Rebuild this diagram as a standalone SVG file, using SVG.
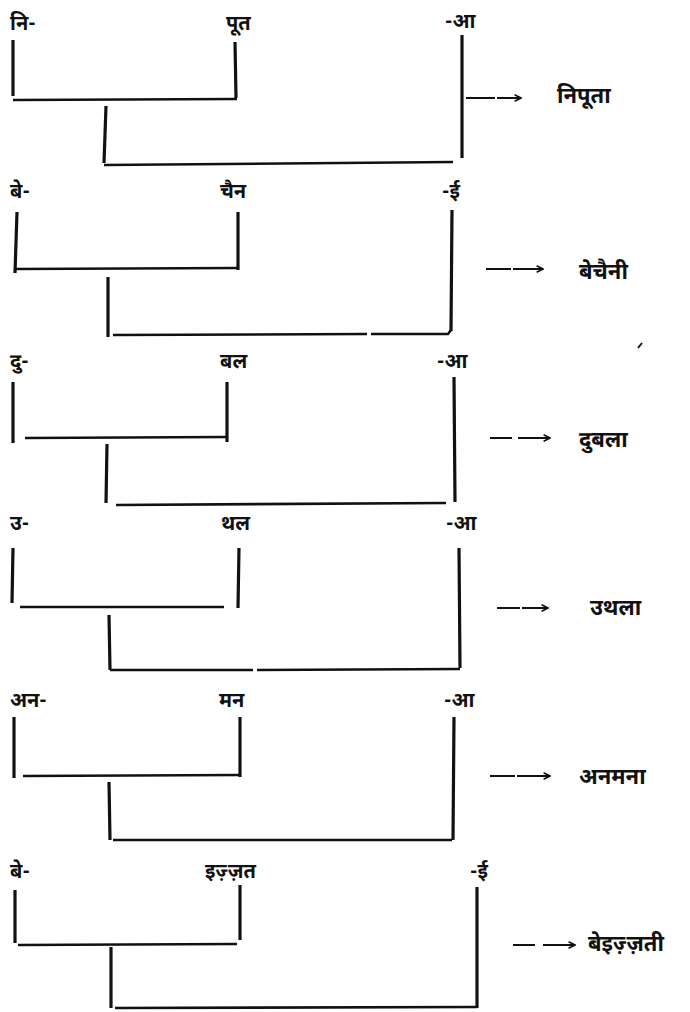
<svg xmlns="http://www.w3.org/2000/svg" width="690" height="1012" viewBox="0 0 690 1012">
<defs>
<style>
.ln{fill:none;stroke:#111;stroke-width:3.2;stroke-linecap:butt}
.hl{fill:none;stroke:#111;stroke-width:2.6}
.ar{fill:none;stroke:#111;stroke-width:2}
.t{font-family:"Noto Sans Devanagari","Noto Sans","Lohit Devanagari","Noto Sans CJK SC",sans-serif;font-size:20px;font-weight:bold;fill:#111}
.r{font-size:22px}
</style>
<marker id="ah" viewBox="0 0 10 10" refX="9" refY="5" markerWidth="8" markerHeight="8" markerUnits="userSpaceOnUse" orient="auto">
<path d="M1,1 L9,5 L1,9" fill="none" stroke="#111" stroke-width="2"/>
</marker>
</defs>
<rect width="690" height="1012" fill="#fff"/>

<g id="connectors">
<!-- block 1 -->
<path class="ln" d="M13,40 L13,96"/>
<path class="hl" d="M13,100 L237,99"/>
<path class="ln" d="M235,42 L236,98"/>
<path class="ln" d="M106,106 L104,163"/>
<path class="hl" d="M104,165 L453,162"/>
<path class="ln" d="M462,35 L462,158"/>
<path class="ar" d="M466,98 L495,98"/>
<path class="ar" d="M497,98 L521,98" marker-end="url(#ah)"/>
<!-- block 2 -->
<path class="ln" d="M17,212 L15,273"/>
<path class="hl" d="M15,269 L239,268"/>
<path class="ln" d="M238,212 L238,270"/>
<path class="ln" d="M108,277 L108,337"/>
<path class="hl" d="M113,335 L367,334"/>
<path class="hl" d="M371,334 L448,334 L451,330"/>
<path class="ln" d="M452,210 L451,331"/>
<path class="ar" d="M486,269 L511,269"/>
<path class="ar" d="M513,269 L543,269" marker-end="url(#ah)"/>
<!-- block 3 -->
<path class="ln" d="M13,382 L13,443"/>
<path class="hl" d="M25,438 L226,437"/>
<path class="ln" d="M227,382 L227,442"/>
<path class="ln" d="M107,444 L106,503"/>
<path class="hl" d="M116,505 L446,503"/>
<path class="ln" d="M454,377 L455,502"/>
<path class="ar" d="M490,438 L512,438"/>
<path class="ar" d="M518,438 L550,438" marker-end="url(#ah)"/>
<!-- block 4 -->
<path class="ln" d="M13,548 L12,603"/>
<path class="hl" d="M20,607 L224,607"/>
<path class="ln" d="M239,548 L238,608"/>
<path class="ln" d="M109,615 L110,670"/>
<path class="hl" d="M110,670 L253,670"/>
<path class="hl" d="M257,670 L460,669"/>
<path class="ln" d="M459,548 L460,668"/>
<path class="ar" d="M497,608 L520,608"/>
<path class="ar" d="M522,608 L548,608" marker-end="url(#ah)"/>
<!-- block 5 -->
<path class="ln" d="M14,717 L14,778"/>
<path class="hl" d="M23,776 L239,775"/>
<path class="ln" d="M240,717 L240,777"/>
<path class="ln" d="M109,782 L110,840"/>
<path class="hl" d="M113,840 L452,840"/>
<path class="ln" d="M454,717 L453,840"/>
<path class="ar" d="M490,776 L515,776"/>
<path class="ar" d="M517,776 L550,776" marker-end="url(#ah)"/>
<!-- block 6 -->
<path class="ln" d="M15,890 L15,943"/>
<path class="hl" d="M18,945 L237,944"/>
<path class="ln" d="M240,885 L240,940"/>
<path class="ln" d="M111,947 L111,1008"/>
<path class="hl" d="M115,1008 L477,1007"/>
<path class="ln" d="M477,887 L477,1008"/>
<path class="ar" d="M513,945 L535,945"/>
<path class="ar" d="M543,945 L575,945" marker-end="url(#ah)"/>
<!-- stray mark -->
<path class="ar" d="M638,348 L642,343"/>
</g>

<g id="b1">
<g id="b1-a"><text class="t" x="10" y="30">नि-</text></g>
<g id="b1-b"><text class="t" x="226" y="30">पूत</text></g>
<g id="b1-c"><text class="t" x="445" y="28">-आ</text></g>
<g id="b1-r"><text class="t r" x="557" y="103">निपूता</text></g>
</g>
<g id="b2">
<g id="b2-a"><text class="t" x="10" y="198">बे-</text></g>
<g id="b2-b"><text class="t" x="220" y="198">चैन</text></g>
<g id="b2-c"><text class="t" x="442" y="198">-ई</text></g>
<g id="b2-r"><text class="t r" x="579" y="279">बेचैनी</text></g>
</g>
<g id="b3">
<g id="b3-a"><text class="t" x="10" y="368">दु-</text></g>
<g id="b3-b"><text class="t" x="220" y="368">बल</text></g>
<g id="b3-c"><text class="t" x="437" y="368">-आ</text></g>
<g id="b3-r"><text class="t r" x="579" y="447">दुबला</text></g>
</g>
<g id="b4">
<g id="b4-a"><text class="t" x="10" y="530">उ-</text></g>
<g id="b4-b"><text class="t" x="221" y="530">थल</text></g>
<g id="b4-c"><text class="t" x="446" y="530">-आ</text></g>
<g id="b4-r"><text class="t r" x="590" y="615">उथला</text></g>
</g>
<g id="b5">
<g id="b5-a"><text class="t" x="10" y="707">अन-</text></g>
<g id="b5-b"><text class="t" x="219" y="707">मन</text></g>
<g id="b5-c"><text class="t" x="444" y="707">-आ</text></g>
<g id="b5-r"><text class="t r" x="579" y="784">अनमना</text></g>
</g>
<g id="b6">
<g id="b6-a"><text class="t" x="10" y="878">बे-</text></g>
<g id="b6-b"><text class="t" x="205" y="878">इज़्ज़त</text></g>
<g id="b6-c"><text class="t" x="470" y="878">-ई</text></g>
<g id="b6-r"><text class="t r" x="588" y="951">बेइज़्ज़ती</text></g>
</g>
</svg>
